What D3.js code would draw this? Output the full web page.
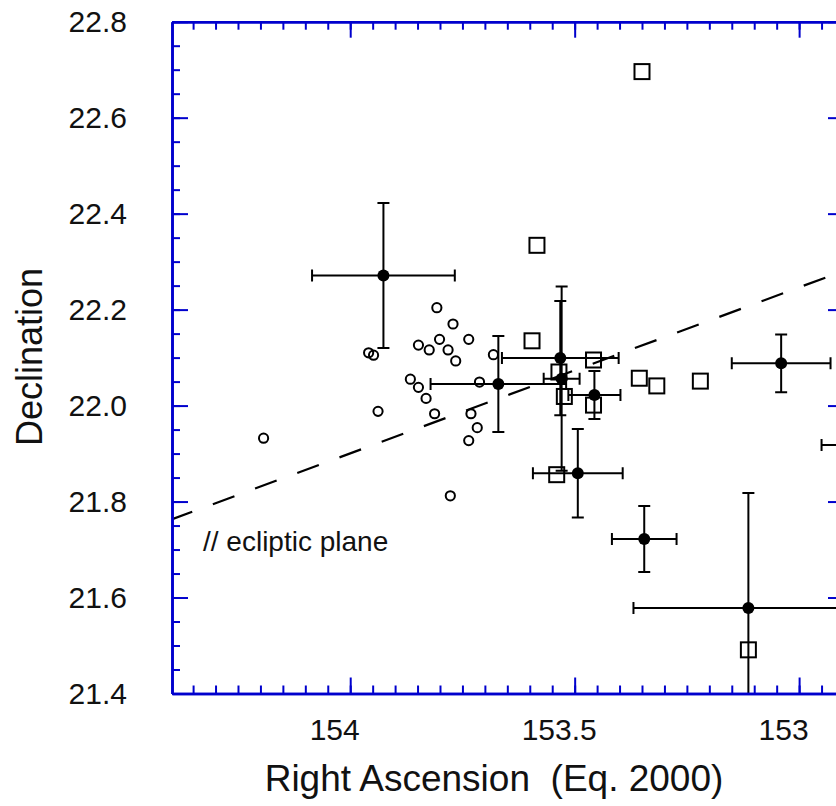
<!DOCTYPE html>
<html>
<head>
<meta charset="utf-8">
<script src="https://cdn.jsdelivr.net/npm/d3@7"></script>
<style>
  body { margin: 0; background: #fff; }
  text { font-family: "Liberation Sans", Arial, sans-serif; }
</style>
</head>
<body>
<svg id="chart" width="836" height="806"></svg>
<script>
/* jshint esversion:6 */
// open circles: [RA, Dec]
const openCircles = [
  [153.807, 22.204], [153.771, 22.170], [153.959, 22.110], [153.948, 22.105],
  [153.848, 22.126], [153.824, 22.116], [153.801, 22.138], [153.782, 22.116],
  [153.765, 22.093], [153.736, 22.138], [153.681, 22.106], [153.866, 22.055],
  [153.848, 22.038], [153.831, 22.015], [153.712, 22.049], [153.938, 21.988],
  [153.812, 21.983], [153.731, 21.983], [153.717, 21.954], [153.736, 21.927],
  [154.193, 21.932], [153.777, 21.812]
];

// open squares: [RA, Dec]
const openSquares = [
  [153.595, 22.135], [153.584, 22.334], [153.350, 22.696], [153.458, 22.095],
  [153.535, 22.070], [153.523, 22.019], [153.458, 22.001], [153.356, 22.057],
  [153.317, 22.041], [153.220, 22.051], [153.540, 21.856], [153.113, 21.491]
];

// filled points with errors
const measuredRA     = [153.926, 153.670, 153.532, 153.529, 153.456, 153.493, 153.345, 153.113, 153.040, 152.860];
const measuredDec    = [22.271, 22.045, 22.099, 22.056, 22.022, 21.859, 21.722, 21.578, 22.088, 21.918];
const measuredRAErr  = [0.159, 0.151, 0.130, 0.040, 0.058, 0.100, 0.072, 0.256, 0.110, 0.090];
const measuredDecErr = [0.151, 0.100, 0.119, 0.192, 0.050, 0.092, 0.069, 0.240, 0.060, 0.060];

// ecliptic plane end points
const eclipticLine = [[154.40, 21.762], [152.90, 22.281]];

const xMajorTicks = [154, 153.5, 153];
const yMajorTicks = [21.4, 21.6, 21.8, 22.0, 22.2, 22.4, 22.6, 22.8];

const axisColor = "#0000cd";

const svg = d3.select("#chart");

const x = d3.scaleLinear().domain([154.397, 152.9]).range([172, 844]);
const y = d3.scaleLinear().domain([21.4, 22.8]).range([693.5, 21.7]);

const plotLeft = 172, plotRight = 844, plotTop = 21.7, plotBottom = 693.5;

svg.append("defs")
  .append("clipPath")
  .attr("id", "plotClip")
  .append("rect")
  .attr("x", plotLeft)
  .attr("y", plotTop)
  .attr("width", plotRight - plotLeft)
  .attr("height", plotBottom - plotTop);

const plot = svg.append("g").attr("clip-path", "url(#plotClip)");

// ecliptic line
plot.append("path")
  .datum(eclipticLine)
  .attr("fill", "none")
  .attr("stroke", "black")
  .attr("stroke-width", 2.2)
  .attr("stroke-dasharray", "23,22")
  .attr("d", d3.line().x(d => x(d[0])).y(d => y(d[1])));

// error bars
const measured = measuredRA.map((ra, i) => ({
  ra: ra, dec: measuredDec[i], raErr: measuredRAErr[i], decErr: measuredDecErr[i]
}));

const cap = 6;
plot.append("g")
  .selectAll("path")
  .data(measured)
  .enter()
  .append("path")
  .attr("fill", "none")
  .attr("stroke", "black")
  .attr("stroke-width", 2)
  .attr("d", function(d) {
    const cx = x(d.ra), cy = y(d.dec);
    const x0 = x(d.ra + d.raErr), x1 = x(d.ra - d.raErr);
    const y0 = y(d.dec + d.decErr), y1 = y(d.dec - d.decErr);
    return "M" + x0 + "," + cy + "H" + x1 +
      "M" + x0 + "," + (cy - cap) + "V" + (cy + cap) +
      "M" + x1 + "," + (cy - cap) + "V" + (cy + cap) +
      "M" + cx + "," + y0 + "V" + y1 +
      "M" + (cx - cap) + "," + y0 + "H" + (cx + cap) +
      "M" + (cx - cap) + "," + y1 + "H" + (cx + cap);
  });

plot.append("g")
  .selectAll("circle")
  .data(measured)
  .enter()
  .append("circle")
  .attr("cx", d => x(d.ra))
  .attr("cy", d => y(d.dec))
  .attr("r", 6)
  .attr("fill", "black");

plot.append("g")
  .selectAll("circle")
  .data(openCircles)
  .enter()
  .append("circle")
  .attr("cx", d => x(d[0]))
  .attr("cy", d => y(d[1]))
  .attr("r", 4.6)
  .attr("fill", "none")
  .attr("stroke", "black")
  .attr("stroke-width", 2);

const sq = 15;
plot.append("g")
  .selectAll("rect")
  .data(openSquares)
  .enter()
  .append("rect")
  .attr("x", d => x(d[0]) - sq / 2)
  .attr("y", d => y(d[1]) - sq / 2)
  .attr("width", sq)
  .attr("height", sq)
  .attr("fill", "none")
  .attr("stroke", "black")
  .attr("stroke-width", 2);

// axes
function styleAxis(g) {
  g.select(".domain").attr("stroke", axisColor).attr("stroke-width", 2.6);
  g.selectAll(".tick line").attr("stroke", axisColor).attr("stroke-width", 2);
  g.selectAll(".tick text")
    .attr("fill", "#111")
    .style("font-size", "30px")
    .style("font-family", "'Liberation Sans', Arial, sans-serif");
}

const minorX = x.ticks(30);
const minorY = y.ticks(28);

const sides = [
  { gen: d3.axisBottom, scale: x, pos: "translate(0," + plotBottom + ")", minor: minorX, major: xMajorTicks, label: true },
  { gen: d3.axisTop, scale: x, pos: "translate(0," + plotTop + ")", minor: minorX, major: xMajorTicks, label: false },
  { gen: d3.axisLeft, scale: y, pos: "translate(" + plotLeft + ",0)", minor: minorY, major: yMajorTicks, label: true },
  { gen: d3.axisRight, scale: y, pos: "translate(" + plotRight + ",0)", minor: minorY, major: yMajorTicks, label: false }
];

sides.forEach(function(s) {
  svg.append("g")
    .attr("transform", s.pos)
    .call(s.gen(s.scale).tickValues(s.minor).tickSize(-8).tickSizeOuter(0).tickFormat(""))
    .call(styleAxis);

  const major = svg.append("g")
    .attr("transform", s.pos)
    .call(s.gen(s.scale)
      .tickValues(s.major)
      .tickSize(-16)
      .tickSizeOuter(0)
      .tickPadding(s.gen === d3.axisLeft ? 45 : 25)
      .tickFormat(s.label ? (s.gen === d3.axisLeft ? d3.format(".1f") : d3.format("")) : ""))
    .call(styleAxis);

  if (s.gen === d3.axisBottom) {
    major.selectAll(".tick text").attr("dx", -16);
  }
});

// axis titles
svg.append("text")
  .attr("x", 494)
  .attr("y", 791)
  .attr("text-anchor", "middle")
  .style("font-size", "37px")
  .style("white-space", "pre")
  .attr("fill", "#111")
  .text("Right Ascension  (Eq. 2000)");

svg.append("text")
  .attr("transform", "translate(42,357) rotate(-90)")
  .attr("text-anchor", "middle")
  .style("font-size", "36px")
  .attr("fill", "#111")
  .text("Declination");

// annotation
svg.append("text")
  .attr("x", 203)
  .attr("y", 551)
  .style("font-size", "28px")
  .attr("fill", "#111")
  .text("// ecliptic plane");
</script>
</body>
</html>
